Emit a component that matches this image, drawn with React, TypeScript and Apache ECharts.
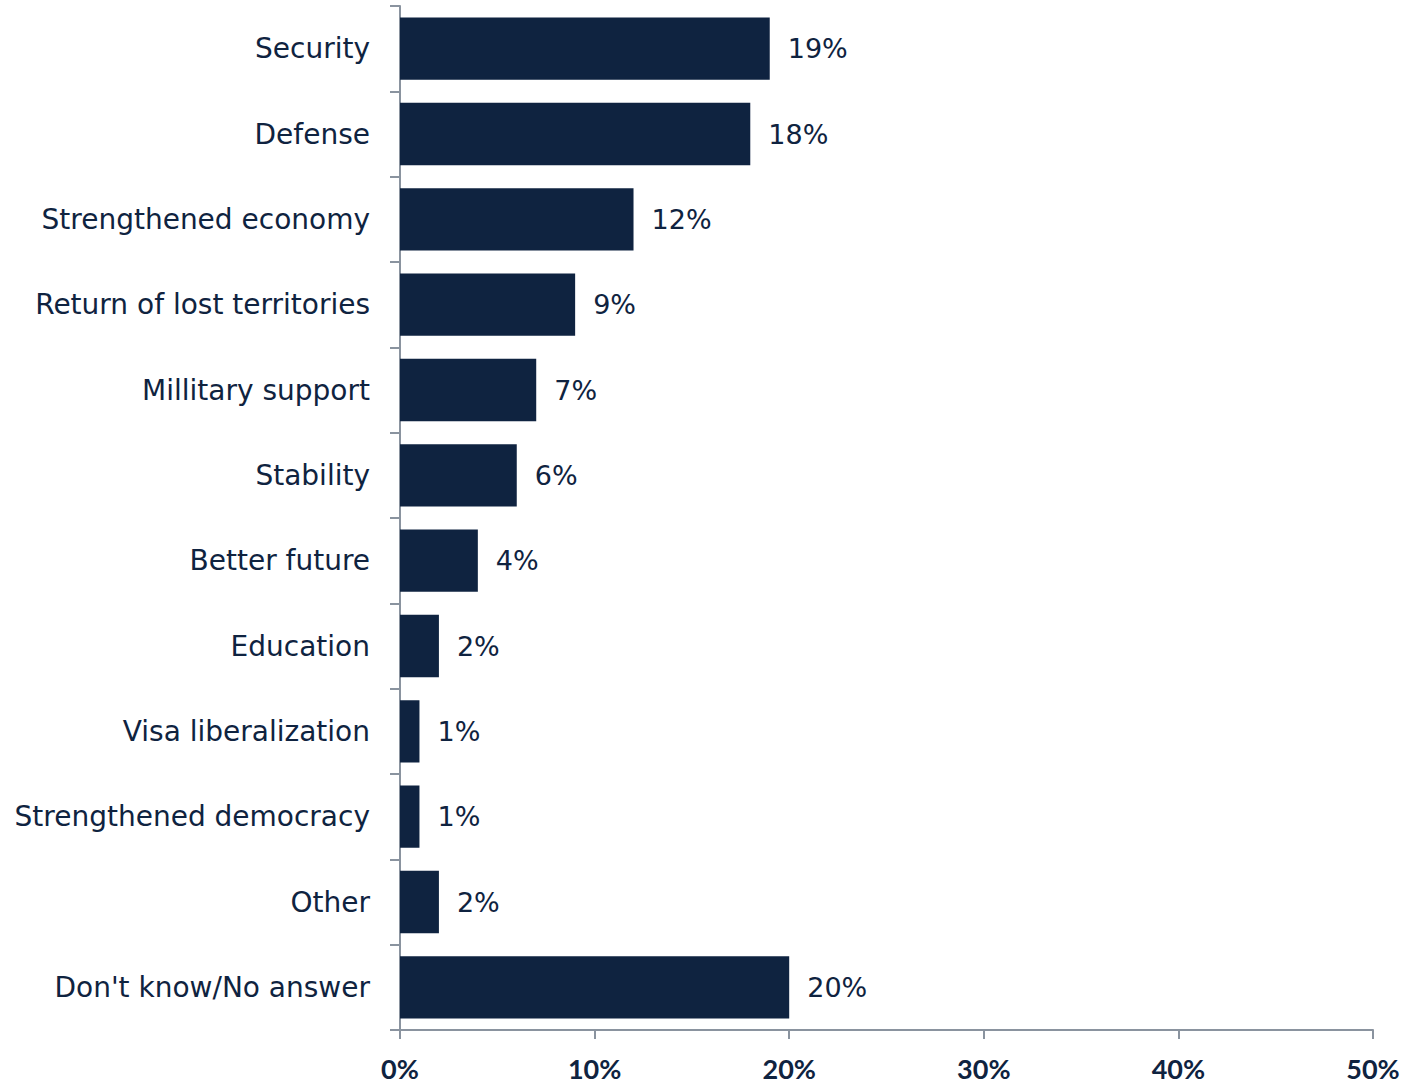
import React, { useEffect, useRef } from "react";
import * as echarts from "echarts";

const categories = [
  "Security",
  "Defense",
  "Strengthened economy",
  "Return of lost territories",
  "Millitary support",
  "Stability",
  "Better future",
  "Education",
  "Visa liberalization",
  "Strengthened democracy",
  "Other",
  "Don't know/No answer",
];
const values = [19, 18, 12, 9, 7, 6, 4, 2, 1, 1, 2, 20];
const xTicks = [0, 10, 20, 30, 40, 50];

const NAVY = "#0F2340";
const AXIS = "#8A939F";

export default function App() {
  const ref = useRef<HTMLDivElement>(null);
  useEffect(() => {
    document.body.style.margin = "0";
    if (!ref.current) return;
    const chart = echarts.init(ref.current, undefined, { renderer: "svg" });
    chart.setOption({
      animation: false,
      grid: { left: 400, right: 50, top: 6, bottom: 56, containLabel: false },
      xAxis: {
        type: "value",
        min: xTicks[0],
        max: xTicks[xTicks.length - 1],
        interval: 10,
        splitLine: { show: false },
        axisLine: { show: true, lineStyle: { color: AXIS, width: 2 } },
        axisTick: { show: true, length: 9, lineStyle: { color: AXIS, width: 2 } },
        axisLabel: {
          formatter: (v: number) => v + "%",
          color: NAVY,
          fontFamily: "Lato",
          fontWeight: "bold",
          fontSize: 27,
          lineHeight: 27,
          margin: 25,
        },
      },
      yAxis: {
        type: "category",
        inverse: true,
        data: categories,
        axisLine: { show: true, lineStyle: { color: AXIS, width: 2 } },
        axisTick: { show: true, length: 10, alignWithLabel: false, lineStyle: { color: AXIS, width: 2 } },
        axisLabel: {
          color: NAVY,
          fontFamily: "DejaVu Sans",
          fontSize: 28,
          margin: 30,
        },
      },
      series: [
        {
          type: "bar",
          data: values,
          barCategoryGap: "27%",
          itemStyle: { color: NAVY },
          label: {
            show: true,
            position: "right",
            distance: 18,
            formatter: (p: any) => p.value + "%",
            color: NAVY,
            fontFamily: "DejaVu Sans",
            fontSize: 27,
          },
        },
      ],
    });
    return () => chart.dispose();
  }, []);
  return <div ref={ref} style={{ width: 1423, height: 1086 }} />;
}
